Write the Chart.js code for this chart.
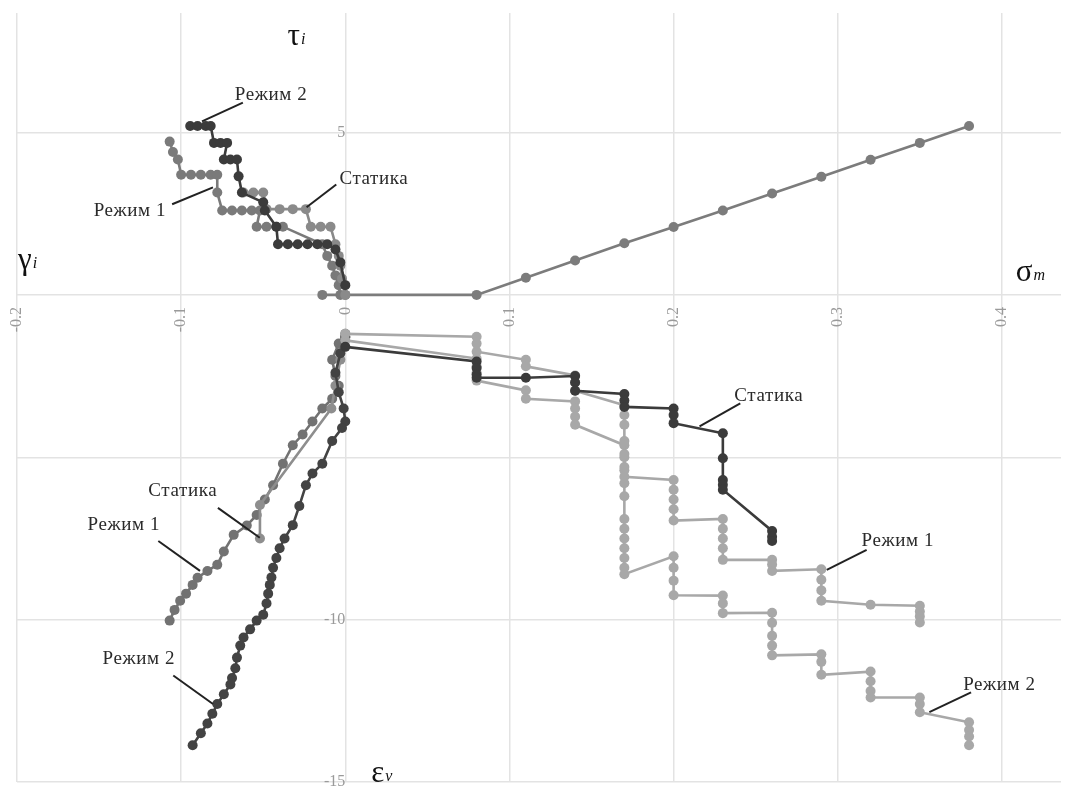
<!DOCTYPE html>
<html>
<head>
<meta charset="utf-8">
<script src="https://cdn.jsdelivr.net/npm/chart.js@4.4.1/dist/chart.umd.min.js"></script>
<style>
  html, body { margin: 0; padding: 0; background: #fff; }
  #wrap { width: 1066px; height: 787px; position: relative; }
</style>
</head>
<body>
<div id="wrap"><canvas id="chart"></canvas></div>
<script>
// upper left: tau_i against gamma_i
const tgR2X = [-0.0945,-0.09,-0.085,-0.082,-0.08,-0.076,-0.072,-0.074,-0.07,-0.066,-0.065,-0.063,-0.05,-0.049,-0.042,-0.041,-0.035,-0.029,-0.023,-0.017,-0.011,-0.006,-0.003,0];
const tgR2Y = [5.2,5.2,5.2,5.2,4.68,4.68,4.68,4.17,4.17,4.17,3.65,3.15,2.85,2.6,2.1,1.56,1.56,1.56,1.56,1.56,1.56,1.4,1.0,0.3];
const tgR1X = [-0.107,-0.105,-0.102,-0.1,-0.094,-0.088,-0.082,-0.078,-0.078,-0.075,-0.069,-0.063,-0.057,-0.052,-0.054,-0.048,-0.042,-0.038,-0.014,-0.011,-0.008,-0.006,-0.004,-0.003];
const tgR1Y = [4.72,4.4,4.17,3.7,3.7,3.7,3.7,3.7,3.15,2.6,2.6,2.6,2.6,2.6,2.1,2.1,2.1,2.1,1.56,1.2,0.9,0.6,0.3,0];
const tgStX = [-0.062,-0.056,-0.05,-0.048,-0.04,-0.032,-0.024,-0.021,-0.015,-0.009,-0.006,-0.004,-0.003,-0.002,0];
const tgStY = [3.15,3.15,3.15,2.64,2.64,2.64,2.64,2.1,2.1,2.1,1.56,1.2,0.9,0.5,0];

// upper right: tau_i against sigma_m
const tsX = [-0.014,0,0.08,0.11,0.14,0.17,0.2,0.23,0.26,0.29,0.32,0.35,0.38];
const tsY = [0,0,0,0.53,1.06,1.59,2.09,2.6,3.12,3.64,4.16,4.68,5.2];

// lower right: eps_v against sigma_m
const esStX = [0,0.08,0.08,0.08,0.08,0.11,0.14,0.14,0.14,0.17,0.17,0.17,0.2,0.2,0.2,0.23,0.23,0.23,0.23,0.23,0.26,0.26,0.26];
const esStY = [-1.6,-2.05,-2.25,-2.45,-2.55,-2.55,-2.5,-2.7,-2.95,-3.05,-3.25,-3.45,-3.5,-3.7,-3.95,-4.26,-5.03,-5.7,-5.85,-6.0,-7.27,-7.45,-7.58];
const esR1X = [0,0.08,0.08,0.08,0.11,0.11,0.14,0.14,0.14,0.17,0.17,0.17,0.17,0.17,0.17,0.17,0.2,0.2,0.2,0.2,0.2,0.23,0.23,0.23,0.23,0.23,0.26,0.26,0.26,0.29,0.29,0.29,0.29,0.32,0.35,0.35,0.35,0.35];
const esR1Y = [-1.2,-1.29,-1.5,-1.75,-2.0,-2.2,-2.48,-2.7,-2.95,-3.4,-3.7,-4.0,-4.5,-4.9,-5.3,-5.6,-5.7,-6.0,-6.3,-6.6,-6.95,-6.9,-7.2,-7.5,-7.8,-8.16,-8.16,-8.3,-8.5,-8.45,-8.77,-9.1,-9.42,-9.54,-9.57,-9.75,-9.9,-10.09];
const esR2X = [0,0.08,0.08,0.08,0.08,0.11,0.11,0.14,0.14,0.14,0.14,
  0.17,0.17,0.17,0.17,0.17,0.17,0.17,0.17,0.17,0.17,0.17,0.17,
  0.2,0.2,0.2,0.2,0.23,0.23,0.23,0.26,0.26,0.26,0.26,0.26,
  0.29,0.29,0.29,0.32,0.32,0.32,0.32,0.35,0.35,0.35,0.38,0.38,0.38,0.38];
const esR2Y = [-1.4,-1.96,-2.2,-2.4,-2.64,-2.94,-3.2,-3.28,-3.5,-3.75,-4.0,
  -4.63,-5.0,-5.4,-5.8,-6.2,-6.9,-7.2,-7.5,-7.8,-8.1,-8.4,-8.6,
  -8.05,-8.4,-8.8,-9.25,-9.26,-9.5,-9.8,-9.79,-10.1,-10.5,-10.8,-11.1,
  -11.07,-11.3,-11.7,-11.6,-11.9,-12.2,-12.4,-12.4,-12.6,-12.85,-13.16,-13.4,-13.6,-13.87];

// lower left: eps_v against gamma_i
const egR1X = [0,-0.004,-0.008,-0.006,-0.004,-0.008,-0.014,-0.02,-0.026,-0.032,-0.038,-0.044,-0.049,-0.054,-0.06,-0.068,-0.074,-0.078,-0.084,-0.09,-0.093,-0.097,-0.1006,-0.104,-0.107];
const egR1Y = [-1.2,-1.5,-2.0,-2.5,-2.8,-3.2,-3.5,-3.9,-4.3,-4.63,-5.2,-5.86,-6.3,-6.78,-7.1,-7.39,-7.9,-8.31,-8.5,-8.71,-8.93,-9.2,-9.42,-9.7,-10.03];
const egStX = [0,-0.003,-0.006,-0.0085,-0.052,-0.052];
const egStY = [-1.3,-2.0,-2.8,-3.5,-6.47,-7.5];
const egR2X = [0,-0.003,-0.006,-0.004,-0.001,0,-0.002,-0.008,-0.014,-0.02,-0.024,-0.028,-0.032,-0.037,-0.04,-0.042,-0.044,-0.045,-0.046,-0.047,-0.048,-0.05,-0.054,-0.058,-0.062,-0.064,-0.066,-0.067,-0.069,-0.07,-0.074,-0.078,-0.081,-0.084,-0.088,-0.093];
const egR2Y = [-1.3,-1.8,-2.4,-3.0,-3.5,-3.9,-4.1,-4.5,-5.2,-5.5,-5.86,-6.5,-7.09,-7.5,-7.8,-8.1,-8.4,-8.7,-8.93,-9.2,-9.5,-9.85,-10.03,-10.3,-10.55,-10.8,-11.17,-11.5,-11.8,-12.0,-12.3,-12.6,-12.9,-13.2,-13.5,-13.87];

// y tick labels that show in the picture (-5 is covered by the curves there)
const yLabelled = [-15, -10, 0, 5];

// callout labels, in data units: text corner, then leader line ends
const notes = [
  { text: 'Режим 2', x: -0.0673, y: 6.01, from: [-0.0624, 5.92], to: [-0.0873, 5.34] },
  { text: 'Режим 1', x: -0.1533, y: 2.42, from: [-0.1055, 2.79], to: [-0.0806, 3.31] },
  { text: 'Статика', x: -0.0036, y: 3.4, from: [-0.0055, 3.4], to: [-0.0236, 2.7] },
  { text: 'Статика', x: -0.12, y: -6.2, from: [-0.0776, -6.56], to: [-0.0521, -7.48] },
  { text: 'Режим 1', x: -0.157, y: -7.24, from: [-0.1139, -7.58], to: [-0.0885, -8.5] },
  { text: 'Режим 2', x: -0.1479, y: -11.38, from: [-0.1048, -11.72], to: [-0.0806, -12.6] },
  { text: 'Статика', x: 0.237, y: -3.28, from: [0.2406, -3.34], to: [0.2158, -4.05] },
  { text: 'Режим 1', x: 0.3145, y: -7.73, from: [0.3176, -7.85], to: [0.2933, -8.47] },
  { text: 'Режим 2', x: 0.3764, y: -12.18, from: [0.3812, -12.24], to: [0.3558, -12.85] }
];
const axisNames = [
  { main: 'τ', sub: 'i', x: -0.0352, y: 7.7 },
  { main: 'γ', sub: 'i', x: -0.1994, y: 0.8 },
  { main: 'σ', sub: 'm', x: 0.4085, y: 0.43 },
  { main: 'ε', sub: 'v', x: 0.0158, y: -15.0 }
];

const SERIF = "'Liberation Serif', 'Times New Roman', serif";

function pts(xs, ys) {
  return xs.map((x, i) => ({ x: x, y: ys[i] }));
}
function series(xs, ys, color) {
  return {
    data: pts(xs, ys),
    showLine: true,
    borderColor: color,
    backgroundColor: color,
    borderWidth: 2.6,
    pointRadius: 5,
    pointBorderWidth: 0,
    pointBackgroundColor: color
  };
}

const calloutPlugin = {
  id: 'callouts',
  afterDatasetsDraw(chart) {
    const ctx = chart.ctx;
    const sx = chart.scales.x, sy = chart.scales.y;
    ctx.save();
    ctx.strokeStyle = '#222';
    ctx.lineWidth = 2;
    notes.forEach(n => {
      ctx.beginPath();
      ctx.moveTo(sx.getPixelForValue(n.from[0]), sy.getPixelForValue(n.from[1]));
      ctx.lineTo(sx.getPixelForValue(n.to[0]), sy.getPixelForValue(n.to[1]));
      ctx.stroke();
    });
    ctx.fillStyle = '#2a2a2a';
    ctx.font = '19px ' + SERIF;
    ctx.letterSpacing = '0.6px';
    ctx.textBaseline = 'alphabetic';
    ctx.textAlign = 'left';
    notes.forEach(n => {
      ctx.fillText(n.text, sx.getPixelForValue(n.x), sy.getPixelForValue(n.y));
    });
    ctx.letterSpacing = '0px';
    ctx.fillStyle = '#111';
    axisNames.forEach(a => {
      const px = sx.getPixelForValue(a.x), py = sy.getPixelForValue(a.y);
      ctx.font = '31px ' + SERIF;
      ctx.fillText(a.main, px, py);
      const w = ctx.measureText(a.main).width;
      ctx.font = 'italic 16px ' + SERIF;
      ctx.fillText(a.sub, px + w + 1, py - 1);
    });
    ctx.restore();
  }
};

function onlyRound(step) {
  return scale => {
    scale.ticks = scale.ticks.filter(t => Math.abs(t.value / step - Math.round(t.value / step)) < 1e-6);
  };
}
function noPadding(scale) {
  scale.paddingTop = 0;
  scale.paddingBottom = 0;
  scale.paddingLeft = 0;
  scale.paddingRight = 0;
}

new Chart(document.getElementById('chart'), {
  type: 'scatter',
  data: {
    datasets: [
      series(esStX, esStY, '#3b3b3b'),
      series(esR1X, esR1Y, '#a8a8a8'),
      series(esR2X, esR2Y, '#a8a8a8'),
      series(tgR2X, tgR2Y, '#3b3b3b'),
      series(tgStX, tgStY, '#8a8a8a'),
      series(tgR1X, tgR1Y, '#7a7a7a'),
      series(tsX, tsY, '#7c7c7c'),
      series(egR2X, egR2Y, '#434343'),
      series(egStX, egStY, '#8e8e8e'),
      series(egR1X, egR1Y, '#727272')
    ]
  },
  options: {
    responsive: true,
    maintainAspectRatio: false,
    animation: false,
    layout: { padding: { left: 17, top: 13, right: 0, bottom: 2 } },
    plugins: { legend: { display: false }, tooltip: { enabled: false } },
    scales: {
      x: {
        type: 'linear',
        min: -0.2,
        max: 0.436,
        position: { y: 0 },
        afterBuildTicks: onlyRound(0.1),
        afterFit: noPadding,
        border: { display: false },
        grid: { color: '#e3e3e3', lineWidth: 1.5, drawTicks: false },
        ticks: {
          stepSize: 0.1,
          autoSkip: false,
          minRotation: 90,
          maxRotation: 90,
          padding: 12,
          color: '#9a9a9a',
          font: { family: SERIF, size: 16 },
          callback: v => String(Number(v.toFixed(2)))
        }
      },
      y: {
        type: 'linear',
        min: -15,
        max: 8.68,
        position: { x: 0 },
        afterBuildTicks: onlyRound(5),
        afterFit: noPadding,
        border: { display: false },
        grid: { color: '#e3e3e3', lineWidth: 1.5, drawTicks: false },
        ticks: {
          stepSize: 5,
          padding: 16,
          color: '#9a9a9a',
          font: { family: SERIF, size: 16 },
          callback: v => yLabelled.includes(Math.round(v)) ? String(Math.round(v)) : ''
        }
      }
    }
  },
  plugins: [calloutPlugin]
});
</script>
</body>
</html>
